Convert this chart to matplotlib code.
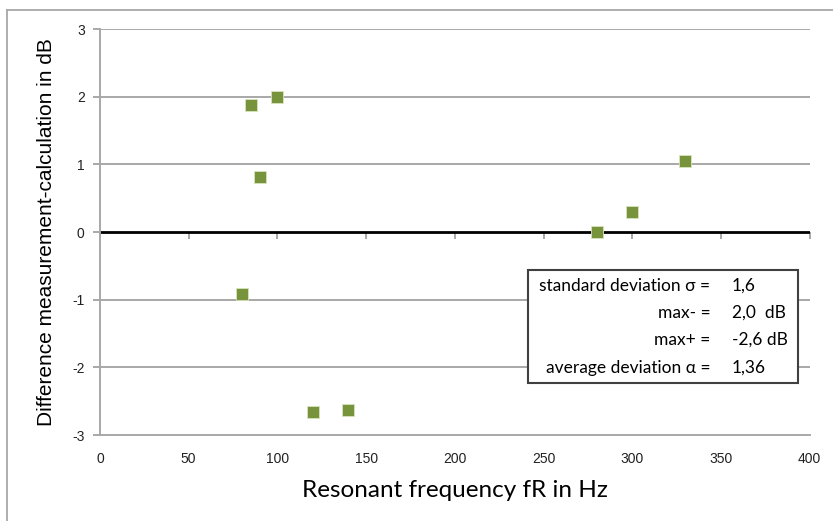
import matplotlib.pyplot as plt
from matplotlib.patches import Rectangle
from matplotlib.lines import Line2D

plt.rcParams['axes.unicode_minus'] = False

# resonant frequency (Hz) and measured-calculated difference (dB)
freq = [80, 85, 90, 100, 120, 140, 280, 300, 330]
diff = [-0.92, 1.88, 0.81, 2.0, -2.66, -2.63, 0.0, 0.3, 1.05]

stat_labels = ['standard deviation σ =', 'max- =', 'max+ =', 'average deviation α =']
stat_values = ['1,6', '2,0  dB', '-2,6 dB', '1,36']

fig = plt.figure(figsize=(8.33, 5.21), dpi=100)
# partial outer frame (top and left only)
fig.lines.append(Line2D([0.009, 1.0], [0.980, 0.980], transform=fig.transFigure,
                        color='#a8a8a8', linewidth=1.3))
fig.lines.append(Line2D([0.009, 0.009], [0.0, 0.980], transform=fig.transFigure,
                        color='#a8a8a8', linewidth=1.3))
ax = fig.add_axes([0.12, 0.165, 0.852, 0.779])

for y in [-2, -1, 1, 2, 3]:
    ax.axhline(y, color='#a8a8a8', linewidth=1.4, zorder=1)
ax.axhline(0, color='black', linewidth=2.0, zorder=2)

ax.set_xlim(0, 400)
ax.set_ylim(-3, 3)
ax.set_xticks(range(0, 401, 50))
ax.set_yticks(range(-3, 4))

# small ticks hanging below the zero line
xt = ax.get_xticks()
ax.plot(xt, [0] * len(xt), linestyle='none', marker=3, markersize=5,
        markeredgewidth=1.4, color='#a8a8a8', zorder=1.5, clip_on=False)

ax.plot(freq, diff, 's', color='#77933C', markersize=8, markeredgecolor='#d8e4bc',
        markeredgewidth=0.6, zorder=3)

for s in ['top', 'right']:
    ax.spines[s].set_visible(False)
ax.spines['left'].set_color('#a8a8a8')
ax.spines['bottom'].set_color('#a8a8a8')
ax.spines['left'].set_linewidth(1.4)
ax.spines['bottom'].set_linewidth(1.4)
ax.tick_params(axis='y', length=5, color='#a8a8a8', width=1.4, pad=6, labelsize=10,
               labelcolor='#222222')
ax.tick_params(axis='x', length=0, pad=12, labelsize=10, labelcolor='#222222')
for lab in ax.get_xticklabels() + ax.get_yticklabels():
    lab.set_fontfamily('Liberation Sans')

ax.set_xlabel('Resonant frequency fR in Hz', fontsize=17.5, fontfamily='Lato', labelpad=10)
ax.set_ylabel('Difference measurement-calculation in dB', fontsize=15,
              fontfamily='Liberation Sans', labelpad=12)

# statistics box
ax.add_patch(Rectangle((0.603, 0.128), 0.381, 0.278, transform=ax.transAxes,
                       fill=True, facecolor='white', edgecolor='#404040', linewidth=1.5, zorder=4))
rows_y = [0.367, 0.301, 0.234, 0.165]
for yy, lab, val in zip(rows_y, stat_labels, stat_values):
    ax.text(0.860, yy, lab, transform=ax.transAxes, ha='right', va='center',
            fontsize=12.5, fontfamily='Lato', zorder=5)
    ax.text(0.890, yy, val, transform=ax.transAxes, ha='left', va='center',
            fontsize=12.5, fontfamily='Lato', zorder=5)

fig.savefig('out.png', dpi=100)
